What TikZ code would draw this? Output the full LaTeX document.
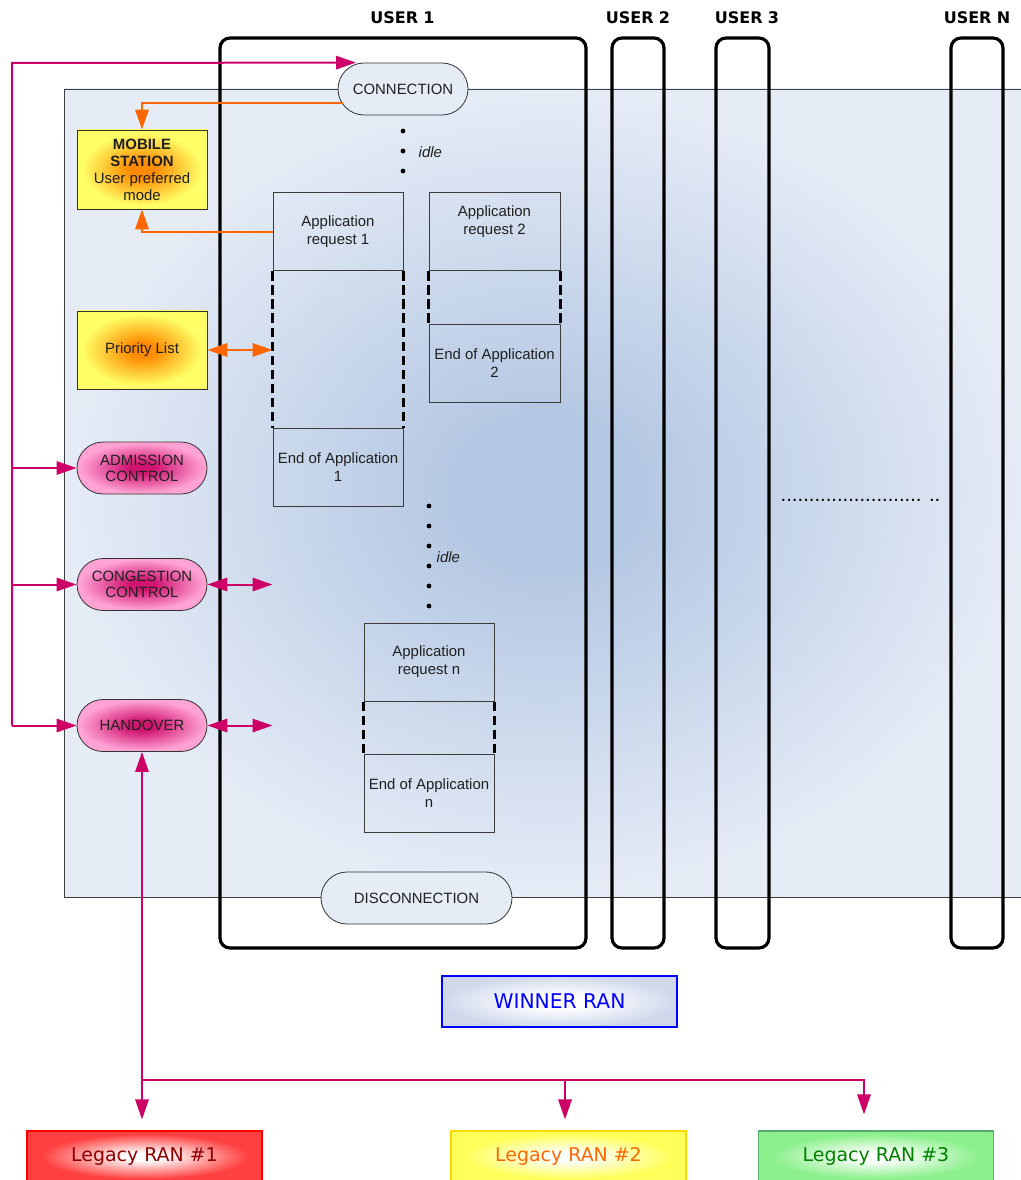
\documentclass[tikz,border=0pt]{standalone}
\usepackage{fontspec}
\setmainfont{Liberation Sans}
\newfontfamily\dejavu{DejaVu Sans}
\usetikzlibrary{shapes.misc,arrows.meta,calc}

% palette
\definecolor{magline}{RGB}{204,0,102}
\definecolor{orline}{RGB}{255,102,0}
\definecolor{bgout}{RGB}{230,236,246}
\definecolor{bgin}{RGB}{181,200,227}
\definecolor{ylw}{RGB}{255,255,102}
\definecolor{org}{RGB}{255,140,0}
\definecolor{pinkout}{RGB}{255,162,212}
\definecolor{pinkin}{RGB}{208,20,112}
\definecolor{redout}{RGB}{255,64,64}
\definecolor{yelout}{RGB}{255,255,90}
\definecolor{grnout}{RGB}{140,240,140}
\definecolor{winout}{RGB}{208,217,236}
\definecolor{boxline}{RGB}{60,60,60}
\definecolor{redtext}{RGB}{140,0,0}
\definecolor{grntext}{RGB}{0,128,0}

% shadings (100bp square, path edge at 25bp)
\pgfdeclareradialshading{bgglow}{\pgfpoint{0bp}{0bp}}{color(0bp)=(bgin); color(5bp)=(bgin); color(25bp)=(bgout); color(50bp)=(bgout)}
\pgfdeclareradialshading{sunglow}{\pgfpoint{0bp}{0bp}}{color(0bp)=(org); color(5bp)=(org); color(23bp)=(ylw); color(50bp)=(ylw)}
\pgfdeclareradialshading{pinkglow}{\pgfpoint{0bp}{0bp}}{color(0bp)=(pinkin); color(5bp)=(pinkin); color(24bp)=(pinkout); color(50bp)=(pinkout)}
\pgfdeclareradialshading{redglow}{\pgfpoint{0bp}{0bp}}{color(0bp)=(white); color(4bp)=(white); color(22bp)=(redout); color(50bp)=(redout)}
\pgfdeclareradialshading{yelglow}{\pgfpoint{0bp}{0bp}}{color(0bp)=(white); color(4bp)=(white); color(22bp)=(yelout); color(50bp)=(yelout)}
\pgfdeclareradialshading{grnglow}{\pgfpoint{0bp}{0bp}}{color(0bp)=(white); color(4bp)=(white); color(22bp)=(grnout); color(50bp)=(grnout)}
\pgfdeclareradialshading{winglow}{\pgfpoint{0bp}{0bp}}{color(0bp)=(white); color(6bp)=(white); color(25bp)=(winout); color(50bp)=(winout)}

\begin{document}
\begin{tikzpicture}[x=0.75pt,y=-0.75pt,
  >={Triangle[length=15pt,width=10pt]},
  txt/.style={font=\fontsize{11.2}{13.6}\selectfont, align=center, text=black!88},
  lane/.style={rectangle, draw=black, line width=2.4pt, rounded corners=7.5pt, inner sep=0pt, minimum height=682.5pt},
  lanelbl/.style={font=\dejavu\bfseries\fontsize{12}{14}\selectfont},
  stage/.style={rounded rectangle, draw=black!80, line width=0.6pt, fill=bgout, minimum height=39pt, inner sep=0pt, txt},
  ctrl/.style={rounded rectangle, draw=black!80, line width=0.6pt, shade, shading=pinkglow, minimum width=97.5pt, minimum height=39pt, inner sep=0pt, txt},
  unit/.style={rectangle, draw=black!80, line width=0.6pt, shade, shading=sunglow, minimum width=97.5pt, inner sep=0pt, txt},
  appbox/.style={rectangle, draw=boxline, line width=0.75pt, minimum width=97.5pt, minimum height=58.5pt, inner sep=0pt, txt},
  gapline/.style={line width=2pt, dash pattern=on 7pt off 3.5pt},
  dot/.style={circle, fill=black, inner sep=0pt, minimum size=3.6pt},
  ran/.style={rectangle, line width=0.8pt, shade, minimum width=176.25pt, minimum height=38.25pt, inner sep=0pt},
  ranfont/.style={font=\dejavu\fontsize{14.2}{16}\selectfont},
  magl/.style={draw=magline, line width=1.5pt},
  orl/.style={draw=orline, line width=1.8pt},
]
\useasboundingbox (0,0) rectangle (1020,1180);

% WINNER RAN area
\shade[shading=bgglow, draw=black!75, line width=0.7pt] (64,89) rectangle (1030,897);

% user lanes
\node[lane, minimum width=274.5pt] (u1) at (403,493) {};
\node[lane, minimum width=39pt] (u2) at (638,493) {};
\node[lane, minimum width=39.75pt] (u3) at (742.5,493) {};
\node[lane, minimum width=39pt] (un) at (977,493) {};
\node[lanelbl] (u1l) at (402.5,18) {USER\,\,1};
\node[lanelbl] (u2l) at (638,18) {USER\,\,2};
\node[lanelbl] (u3l) at (747,18) {USER\,\,3};
\node[lanelbl] (unl) at (977,18) {USER\,\,N};

% session start / end
\node[stage, minimum width=97.5pt] (conn) at (403,89) {CONNECTION};
\node[stage, minimum width=143.25pt] (disc) at (416.5,898) {DISCONNECTION};

% idle periods
\node[dot] (d1) at (403,131) {};
\node[dot] (d2) at (403,151) {};
\node[dot] (d3) at (403,171) {};
\node[txt, anchor=west, font=\itshape\fontsize{11.2}{13}\selectfont] (idle1) at (414,152) {idle};
\foreach \k/\yy in {1/506,2/526,3/546,4/566,5/586,6/606}
  \node[dot] (e\k) at (429,\yy) {};
\node[txt, anchor=west, font=\itshape\fontsize{11.2}{13}\selectfont] (idle2) at (432,557) {idle};

% applications of user 1
\node[appbox] (a1top) at (338,232) {Application\\request 1};
\node[appbox] (a1end) at (338,467) {End of Application\\1};
\draw[gapline] (a1top.south west) -- (a1end.north west);
\draw[gapline] (a1top.south east) -- (a1end.north east);

\node[appbox, minimum width=98.25pt] (a2top) at (494.5,232) {};
\node[txt] (a2txt) at (494.5,222) {Application\\request 2};
\node[appbox, minimum width=98.25pt] (a2end) at (494.5,363) {End of Application\\2};
\draw[gapline] (a2top.south west) -- (a2end.north west);
\draw[gapline] (a2top.south east) -- (a2end.north east);

\node[appbox] (antop) at (429,662) {Application\\request n};
\node[appbox] (anend) at (429,793) {End of Application\\n};
\draw[gapline] (antop.south west) -- (anend.north west);
\draw[gapline] (antop.south east) -- (anend.north east);

% further users
\node[anchor=base west, font=\fontsize{15.2}{16}\selectfont] (more) at (776,501) {......................... ..};

% network functions
\node[unit, minimum height=59.25pt, font=\fontsize{11.2}{12.8}\selectfont] (ms) at (142,169.5) {\textbf{MOBILE}\\\textbf{STATION}\\User preferred\\mode};
\node[unit, minimum height=58.5pt] (prio) at (142,350) {Priority List};
\node[ctrl, font=\fontsize{11.2}{12}\selectfont] (adm) at (142,468) {ADMISSION\\CONTROL};
\node[ctrl, font=\fontsize{11.2}{12}\selectfont] (cong) at (142,584.5) {CONGESTION\\CONTROL};
\node[ctrl] (hand) at (142,725.5) {HANDOVER};

% radio access networks
\node[ran, draw=blue, shading=winglow, text=blue, font=\dejavu\fontsize{15.2}{17}\selectfont] (winner) at (559.5,1001.5) {WINNER RAN};
\node[ran, ranfont, draw=red, shading=redglow, text=redtext] (leg1) at (144.5,1156.5) {Legacy RAN \#1};
\node[ran, ranfont, draw={rgb,255:red,255;green,215;blue,0}, shading=yelglow, text=orline] (leg2) at (568.5,1156.5) {Legacy RAN \#2};
\node[ran, ranfont, draw={rgb,255:red,90;green,170;blue,110}, shading=grnglow, text=grntext] (leg3) at (876,1156.5) {Legacy RAN \#3};

% orange signalling
\draw[orl, ->] ($(conn.west)+(5,14)$) -| (ms.north);
\draw[orl, ->] (a1top.west) -| (ms.south);
\draw[orl, <->] (prio.east) -- (prio.east -| a1top.west);

% magenta control rail
\coordinate (rail) at (12,63);
\draw[magl, ->] (rail |- hand) -- (rail) -- ($(conn.north)+(-47,0)$);
\draw[magl, ->] (rail |- adm) -- (adm.west);
\draw[magl, ->] (rail |- cong) -- (cong.west);
\draw[magl, ->] (rail |- hand) -- (hand.west);
\draw[magl, <->] (cong.east) -- (cong.east -| a1top.west);
\draw[magl, <->] (hand.east) -- (hand.east -| a1top.west);

% handover towards legacy networks
\coordinate (bus) at (142,1080);
\draw[magl, <->] (hand.south) -- ($(hand.south |- leg1.north)+(0,-11)$);
\draw[magl, ->] (bus) -| ($(leg2.north)+(-3.5,-11)$);
\draw[magl, ->] (bus) -| ($(leg3.north)+(-12,-16)$);
\end{tikzpicture}
\end{document}
